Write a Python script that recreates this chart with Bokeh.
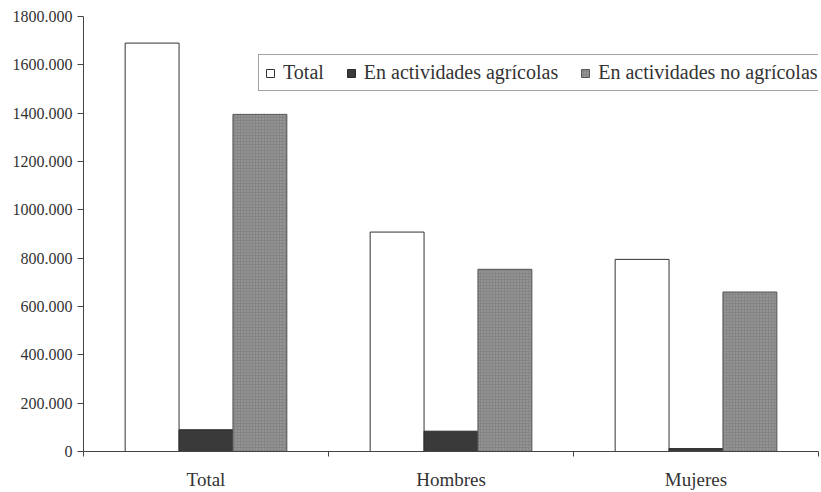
from bokeh.plotting import figure
from bokeh.models import Range1d, FixedTicker, Legend, LegendItem, ColumnDataSource
from bokeh.embed import file_html
from bokeh.resources import INLINE

# ---- data ----
categories = ["Total", "Hombres", "Mujeres"]
series_names = ["Total", "En actividades agrícolas", "En actividades no agrícolas"]
total = [1690000, 908000, 795000]
agricolas = [90000, 84000, 12000]
no_agricolas = [1395000, 754000, 660000]
y_ticks = [0, 200000, 400000, 600000, 800000, 1000000, 1200000, 1400000, 1600000, 1800000]
y_tick_labels = ["0", "200.000", "400.000", "600.000", "800.000", "1000.000",
                 "1200.000", "1400.000", "1600.000", "1800.000"]

FONT = "Liberation Serif"
n = len(categories)
centers = [i + 0.5 for i in range(n)]
boundaries = [float(i) for i in range(n + 1)]

p = figure(width=821, height=492, output_backend="svg", toolbar_location=None,
           x_range=Range1d(0, n), y_range=Range1d(0, y_ticks[-1]),
           min_border_left=83, min_border_right=3, min_border_top=16, min_border_bottom=41)

series = [total, agricolas, no_agricolas]
offsets = [-0.22, 0.0, 0.22]
styles = [
    dict(fill_color="white", line_color="#333333"),
    dict(fill_color="#3a3a3a", line_color="#2a2a2a"),
    dict(fill_color="#858585", line_color="#555555", hatch_pattern="dot",
         hatch_color="#a8a8a8", hatch_scale=3, hatch_weight=1),
]
renderers = []
for vals, off, st in zip(series, offsets, styles):
    src = ColumnDataSource(dict(x=[c + off for c in centers], top=vals))
    r = p.vbar(x="x", top="top", width=0.22, bottom=0, source=src, line_width=1, **st)
    renderers.append(r)

legend = Legend(items=[LegendItem(label=nm, renderers=[r]) for nm, r in zip(series_names, renderers)],
                orientation="horizontal", location=(175, 360),
                label_text_font=FONT, label_text_font_size="20px", label_text_color="#333333",
                glyph_width=10, glyph_height=10, label_standoff=8, spacing=22,
                padding=6, label_height=20, margin=0,
                border_line_color="#444444", border_line_width=1,
                background_fill_color="white", background_fill_alpha=1.0)
p.add_layout(legend)

p.xgrid.visible = False
p.ygrid.visible = False
p.outline_line_color = None

xa = p.xaxis[0]
xa.ticker = FixedTicker(ticks=centers, minor_ticks=boundaries)
xa.major_label_overrides = {c: name for c, name in zip(centers, categories)}
xa.major_tick_out = 0
xa.major_tick_in = 0
xa.minor_tick_out = 5
xa.minor_tick_in = 0
xa.major_label_standoff = 12
xa.major_label_text_font = FONT
xa.major_label_text_font_size = "19px"
xa.major_label_text_color = "#333333"
xa.axis_line_color = "#444444"
xa.minor_tick_line_color = "#444444"

ya = p.yaxis[0]
ya.ticker = FixedTicker(ticks=y_ticks, minor_ticks=[])
ya.major_label_overrides = {t: lab for t, lab in zip(y_ticks, y_tick_labels)}
ya.major_tick_out = 6
ya.major_tick_in = 0
ya.minor_tick_out = 0
ya.minor_tick_in = 0
ya.major_label_standoff = 5
ya.major_label_text_font = FONT
ya.major_label_text_font_size = "16px"
ya.major_label_text_color = "#333333"
ya.axis_line_color = "#444444"
ya.major_tick_line_color = "#444444"

open("out.html", "w").write(file_html(p, INLINE))
